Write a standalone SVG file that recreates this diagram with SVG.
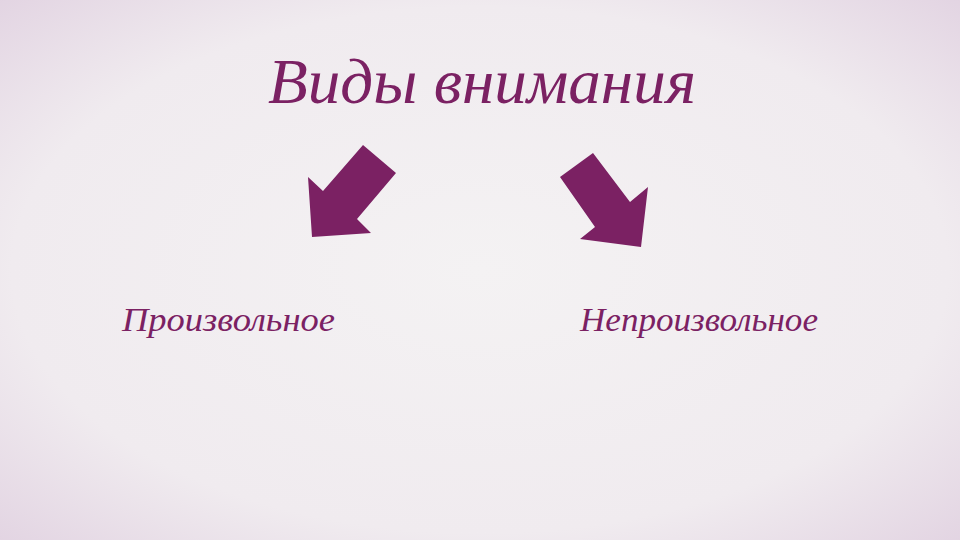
<svg xmlns="http://www.w3.org/2000/svg" width="960" height="540" viewBox="0 0 960 540">
<defs>
<radialGradient id="bg" cx="50%" cy="50%" r="75%">
<stop offset="0" stop-color="#f4f2f3"/>
<stop offset="0.65" stop-color="#f0ebef"/>
<stop offset="1" stop-color="#e0d0e0"/>
</radialGradient>
<style>
.t{font-family:"Liberation Serif","DejaVu Serif",serif;font-style:italic;fill:#7b2163}
.a{fill:#7b2163}
</style>
</defs>
<rect width="960" height="540" fill="url(#bg)"/>
<g id="title"><text class="t" x="482" y="103" font-size="64" text-anchor="middle" textLength="428" lengthAdjust="spacingAndGlyphs">Виды внимания</text></g>
<g id="connectors">
<polygon class="a" points="363,145 396,173 357,219 371,233 312,237 308,177 323,191"/>
<polygon class="a" points="593,153 560,177 595,227 580,239 641,247 648,187 630,202"/>
</g>
<g id="n1"><text class="t" x="122" y="331" font-size="34" textLength="213" lengthAdjust="spacingAndGlyphs">Произвольное</text></g>
<g id="n2"><text class="t" x="580" y="331" font-size="34" textLength="238" lengthAdjust="spacingAndGlyphs">Непроизвольное</text></g>
</svg>
